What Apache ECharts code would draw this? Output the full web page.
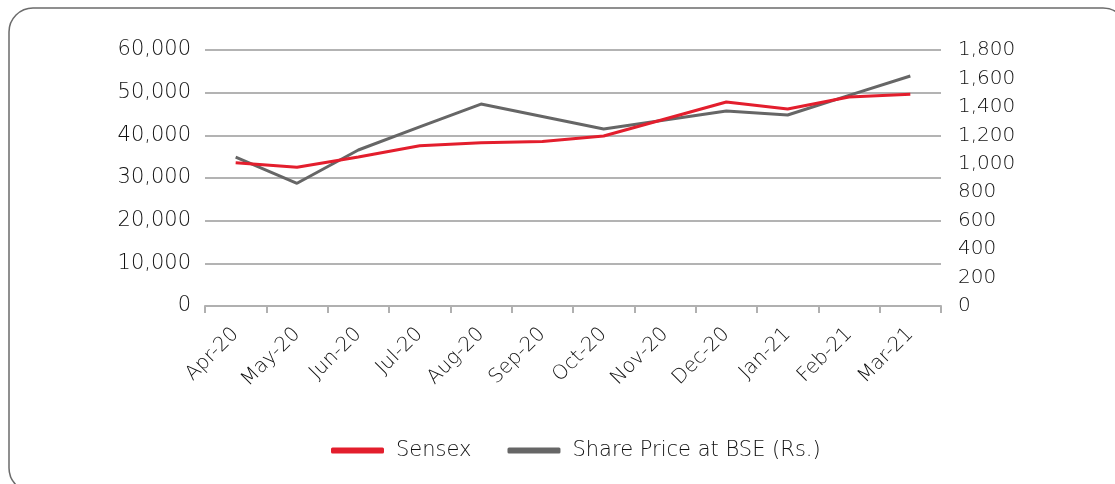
<!DOCTYPE html>
<html>
<head>
    <meta charset="utf-8">
    <script src="https://cdn.jsdelivr.net/npm/echarts@6/dist/echarts.min.js"></script>
    <style>
        html, body { margin: 0; padding: 0; background: #fff; }
    </style>
</head>
<body>
    <div id="main" style="width: 1115px;height:484px;"></div>
    <script type="text/javascript">
        var months = ['Apr-20', 'May-20', 'Jun-20', 'Jul-20', 'Aug-20', 'Sep-20',
            'Oct-20', 'Nov-20', 'Dec-20', 'Jan-21', 'Feb-21', 'Mar-21'];
        var sensex = [33600, 32500, 34900, 37570, 38270, 38550, 39850, 43830, 47810, 46170, 48980, 49620];
        var sharePrice = [1046, 863, 1097, 1259, 1420, 1333, 1245, 1308, 1371, 1343, 1481, 1617];

        var leftTicks = {min: 0, max: 60000, interval: 10000};
        var rightTicks = {min: 0, max: 1800, interval: 200};

        var font = 'DejaVu Sans';
        var weight = 200;
        var textColor = '#111111';

        function fmt(v) {
            return v.toLocaleString('en-US');
        }

        var option = {
            animation: false,
            graphic: [{
                type: 'rect',
                shape: {x: 9, y: 8, width: 1118, height: 484, r: 24},
                style: {fill: 'none', stroke: '#6b6b6b', lineWidth: 1.5}
            }],
            legend: {
                bottom: 18,
                left: 326,
                itemWidth: 53,
                itemHeight: 6,
                itemGap: 36,
                icon: 'roundRect',
                textStyle: {fontFamily: font, fontWeight: weight, fontSize: 21, color: textColor, padding: [0, 0, 0, 7]},
                data: ['Sensex', 'Share Price at BSE (Rs.)']
            },
            grid: {
                left: 205,
                right: 174,
                top: 50,
                bottom: 178
            },
            xAxis: {
                type: 'category',
                boundaryGap: true,
                data: months,
                axisLine: {lineStyle: {color: '#b0b0b0', width: 2}},
                axisTick: {show: true, length: 7, lineStyle: {color: '#b0b0b0', width: 2}},
                axisLabel: {
                    rotate: 45,
                    margin: 25,
                    interval: 0,
                    fontFamily: font,
                    fontWeight: weight,
                    fontSize: 20,
                    color: textColor
                },
                splitLine: {show: false}
            },
            yAxis: [{
                type: 'value',
                min: leftTicks.min,
                max: leftTicks.max,
                interval: leftTicks.interval,
                axisLine: {show: false},
                axisTick: {show: false},
                axisLabel: {
                    margin: 14,
                    fontFamily: font,
                    fontWeight: weight,
                    fontSize: 21,
                    color: textColor,
                    formatter: fmt
                },
                splitLine: {lineStyle: {color: '#b3b3b3', width: 2}}
            }, {
                type: 'value',
                min: rightTicks.min,
                max: rightTicks.max,
                interval: rightTicks.interval,
                axisLine: {show: false},
                axisTick: {show: false},
                axisLabel: {
                    margin: 17,
                    fontFamily: font,
                    fontWeight: weight,
                    fontSize: 20,
                    color: textColor,
                    formatter: fmt
                },
                splitLine: {show: false}
            }],
            series: [{
                name: 'Sensex',
                type: 'line',
                yAxisIndex: 0,
                data: sensex,
                showSymbol: false,
                symbol: 'none',
                lineStyle: {color: '#e31e2d', width: 3},
                itemStyle: {color: '#e31e2d'},
                z: 3
            }, {
                name: 'Share Price at BSE (Rs.)',
                type: 'line',
                yAxisIndex: 1,
                data: sharePrice,
                showSymbol: false,
                symbol: 'none',
                lineStyle: {color: '#666666', width: 3},
                itemStyle: {color: '#666666'},
                z: 2
            }]
        };

        var myChart = echarts.init(document.getElementById('main'));
        myChart.setOption(option);
    </script>
</body>
</html>
